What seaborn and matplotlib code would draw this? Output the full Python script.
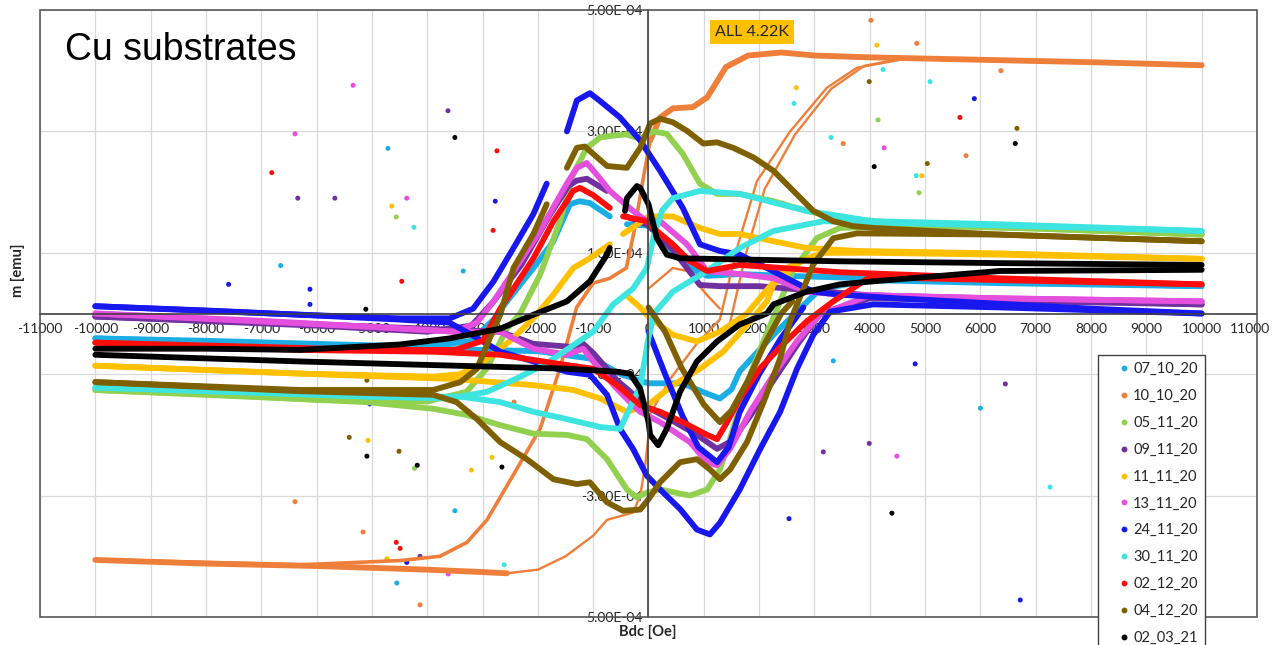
import matplotlib
matplotlib.use("Agg")
import matplotlib.pyplot as plt
from matplotlib.lines import Line2D
from matplotlib.patches import Rectangle
from matplotlib.transforms import ScaledTranslation
import pandas as pd
import seaborn as sns

samples = ["07_10_20", "10_10_20", "05_11_20", "09_11_20", "11_11_20", "13_11_20",
           "24_11_20", "30_11_20", "02_12_20", "04_12_20", "02_03_21"]
colors = ["#1BAEE5", "#EE7F3B", "#92D050", "#7030A0", "#FFC000", "#E54FDD",
          "#1717EE", "#3EE4E0", "#FF0D0D", "#7F6000", "#000000"]

# traced branches: (Bdc [Oe], m [1e-4 emu])
# 07_10_20
lb_up1 = [(-10000, -0.41), (-8000, -0.45), (-6000, -0.5), (-4000, -0.55), (-3200, -0.45),
          (-2800, -0.1), (-2560, 0.2), (-2080, 0.75), (-1720, 1.19), (-1420, 1.8),
          (-1250, 1.85), (-1060, 1.82), (-700, 1.6)]
lb_up2 = [(-390, 1.47), (-30, 1.45), (200, 1.3), (440, 1.0), (750, 0.75), (1060, 0.62),
          (1650, 0.65), (2500, 0.62), (4000, 0.58), (6350, 0.53), (10000, 0.45)]
lb_low = [(10000, 0.45), (6350, 0.5), (4000, 0.55), (3100, 0.4), (2740, 0.08), (2260, -0.35),
          (1650, -0.95), (1500, -1.25), (1290, -1.4), (1000, -1.3), (620, -1.15), (0, -1.15),
          (-500, -1.0), (-1000, -0.75), (-2000, -0.62), (-4000, -0.58), (-10000, -0.41)]
# 10_10_20
or_top = [(10000, 4.09), (8000, 4.14), (6000, 4.18), (4000, 4.22), (3000, 4.25), (2400, 4.3),
          (1800, 4.25), (1400, 4.06), (1060, 3.56), (800, 3.4), (440, 3.38), (210, 3.23),
          (30, 2.85)]
or_low = [(-10000, -4.06), (-8000, -4.12), (-6000, -4.16), (-4000, -4.22), (-3000, -4.26),
          (-2560, -4.28)]
or_down = [(30, 2.85), (-100, 2.2), (-250, 1.4), (-400, 0.75), (-700, 0.58), (-1000, 0.5),
           (-1300, 0.1), (-1600, -0.9), (-1960, -1.9), (-2450, -2.67), (-2920, -3.4),
           (-3280, -3.77), (-3770, -4.0), (-4490, -4.07), (-6300, -4.14), (-8000, -4.1),
           (-10000, -4.06)]
or_up_thin = [(-2560, -4.28), (-2000, -4.22), (-1500, -4.0), (-1000, -3.66), (-750, -3.4),
              (-280, -3.28), (-150, -3.0), (-60, -2.5), (0, -2.0), (20, -1.67), (390, -1.08),
              (870, -0.5), (1290, -0.1), (1600, 1.08), (1960, 2.18), (2560, 3.0), (3225, 3.72),
              (3770, 4.05), (4675, 4.2), (6000, 4.2)]
or_up_thin2 = [(1450, -0.25), (1750, 0.95), (2100, 2.05), (2650, 2.95), (3300, 3.7),
               (3900, 4.08), (4700, 4.22)]
or_wiggle = [(0, 0.41), (440, 0.75), (700, 0.7), (1060, 0.3), (1290, 0.08)]
# 05_11_20
gr_up = [(-10000, -1.26), (-8000, -1.33), (-6000, -1.42), (-4000, -1.45), (-3290, -1.29),
         (-2920, -0.9), (-2560, -0.25), (-2320, 0.0), (-1960, 0.64), (-1600, 1.52),
         (-1360, 2.3), (-1115, 2.73), (-875, 2.9), (-640, 2.93), (-400, 2.95), (-150, 2.88),
         (80, 3.0), (330, 2.96), (620, 2.63), (930, 2.14), (1240, 1.97), (1650, 1.97),
         (2260, 1.85), (2860, 1.69), (3460, 1.57), (5000, 1.45), (7000, 1.4), (10000, 1.3)]
gr_low = [(10000, 1.3), (7000, 1.4), (5000, 1.45), (3460, 1.41), (3040, 1.24), (2610, 0.7),
          (2380, 0.2), (2080, -0.46), (1835, -1.01), (1530, -1.9), (1290, -2.57),
          (1060, -2.9), (750, -3.0), (210, -2.9), (-30, -2.95), (-210, -3.03), (-390, -2.9),
          (-750, -2.4), (-1115, -2.07), (-1475, -2.0), (-2080, -1.98), (-2680, -1.84),
          (-3290, -1.67), (-3890, -1.57), (-5100, -1.46), (-7000, -1.38), (-10000, -1.26)]
# 09_11_20
pu_up1 = [(-10000, -0.05), (-6000, -0.2), (-4000, -0.3), (-3200, -0.2), (-2800, 0.2),
          (-2300, 0.8), (-1800, 1.6), (-1450, 2.1), (-1295, 2.19), (-1115, 2.22), (-750, 2.02)]
pu_up2 = [(-400, 1.6), (0, 1.45), (440, 1.05), (930, 0.47), (1290, 0.45), (2000, 0.45),
          (4000, 0.3), (10000, 0.15)]
pu_low = [(10000, 0.15), (4000, 0.25), (3100, 0.0), (2700, -0.5), (2260, -1.1), (1830, -1.7),
          (1500, -2.1), (1240, -2.23), (875, -2.0), (400, -1.75), (0, -1.55), (-570, -1.1),
          (-1000, -0.65), (-1180, -0.5), (-1400, -0.55), (-2080, -0.5), (-2680, -0.3),
          (-4000, -0.25), (-10000, -0.05)]
# 11_11_20
go_up1 = [(-10000, -0.86), (-6300, -0.99), (-3890, -1.04), (-3400, -1.0), (-3000, -0.8),
          (-2500, -0.45), (-2080, -0.08), (-1720, 0.31), (-1360, 0.75), (-1060, 0.91),
          (-700, 1.14)]
go_up2 = [(-460, 1.31), (-200, 1.47), (0, 1.6), (440, 1.6), (930, 1.41), (1290, 1.31),
          (1650, 1.31), (2260, 1.19), (2860, 1.08), (3770, 1.03), (6350, 0.99), (10000, 0.9)]
go_low = [(10000, 0.9), (6350, 0.97), (4000, 1.0), (3160, 1.0), (2740, 0.86), (2260, 0.48),
          (2140, 0.2), (1835, -0.13), (1350, -0.63), (930, -0.91), (440, -1.18), (0, -1.5),
          (-390, -1.62), (-875, -1.4), (-1360, -1.26), (-2080, -1.18), (-3500, -1.08),
          (-6000, -1.0), (-10000, -0.86)]
go_inner = [(-400, 0.3), (-150, 0.1), (0, -0.05), (440, -0.35), (875, -0.46), (1290, -0.3),
            (1780, 0.0), (2100, 0.35), (2500, 0.75), (3000, 0.95)]
# 13_11_20
mg_up = [(-10000, 0.0), (-7000, -0.12), (-5000, -0.22), (-3500, -0.3), (-3100, -0.15),
         (-2800, 0.2), (-2400, 0.75), (-2000, 1.3), (-1720, 1.75), (-1475, 2.14),
         (-1295, 2.4), (-1115, 2.48), (-900, 2.25), (-700, 2.02), (-280, 1.69), (-30, 1.52),
         (210, 1.52), (695, 1.14), (1060, 0.7), (1650, 0.65), (2260, 0.58), (2860, 0.36),
         (3460, 0.31), (6350, 0.25), (10000, 0.2)]
mg_low = [(10000, 0.2), (6350, 0.25), (4000, 0.3), (3100, -0.02), (2680, -0.46),
          (2260, -1.01), (1835, -1.62), (1475, -2.23), (1240, -2.5), (1060, -2.45),
          (750, -2.12), (210, -1.79), (-150, -1.62), (-280, -1.51), (-570, -1.24),
          (-1000, -0.79), (-1180, -0.58), (-1475, -0.68), (-2080, -0.58), (-2680, -0.3),
          (-3500, -0.3), (-5000, -0.22), (-10000, 0.0)]
# 24_11_20
bl_up1 = [(-10000, 0.12), (-8000, 0.05), (-6300, -0.02), (-4500, -0.08), (-3590, -0.08),
          (-3170, 0.08), (-2800, 0.53), (-2440, 1.08), (-2080, 1.64), (-1840, 2.14)]
bl_up2 = [(-1475, 3.0), (-1295, 3.51), (-1060, 3.63), (-875, 3.5), (-515, 3.23),
          (-150, 2.85), (210, 2.35), (620, 1.74), (930, 1.14), (1290, 1.03), (1650, 0.97),
          (2140, 0.75), (2610, 0.53), (2980, 0.36), (3460, 0.31), (4500, 0.25), (6350, 0.16),
          (8000, 0.08), (10000, 0.0)]
bl_low = [(10000, 0.0), (6350, 0.1), (4060, 0.15), (3280, 0.03), (2980, -0.35), (2685, -0.91),
          (2380, -1.62), (2020, -2.23), (1650, -2.9), (1290, -3.45), (1110, -3.64),
          (875, -3.56), (570, -3.22), (210, -2.9), (-30, -2.67), (-280, -2.23), (-515, -1.9),
          (-750, -1.34), (-1060, -1.01), (-1475, -0.96), (-2080, -0.79), (-2680, -0.63),
          (-3200, -0.35), (-3600, -0.15), (-4500, -0.1), (-6300, -0.02), (-10000, 0.12)]
bl_inner = [(0, -0.3), (300, -1.0), (620, -1.7), (900, -2.2), (1240, -2.45), (1450, -2.2),
            (1650, -1.62), (2000, -1.0), (2400, -0.4), (2800, 0.1)]
# 30_11_20
tq_up = [(-10000, -1.22), (-7000, -1.3), (-5000, -1.37), (-3590, -1.4), (-2920, -1.29),
         (-2380, -1.07), (-1840, -0.82), (-1000, -0.3), (-640, 0.15), (-280, 0.41),
         (-30, 0.75), (100, 1.3), (250, 1.7), (440, 1.9), (930, 2.02), (1650, 1.97),
         (2860, 1.69), (4060, 1.52), (6350, 1.47), (10000, 1.36)]
tq_low = [(10000, 1.36), (6350, 1.45), (3160, 1.52), (2260, 1.36), (1650, 1.08), (1060, 0.7),
          (440, 0.36), (100, 0.0), (0, -0.4), (-150, -1.2), (-515, -1.9), (-875, -1.87),
          (-1475, -1.74), (-2080, -1.62), (-2680, -1.46), (-3400, -1.37), (-5000, -1.37),
          (-10000, -1.22)]
# 02_12_20
rd_up1 = [(-10000, -0.48), (-7000, -0.55), (-5000, -0.6), (-3500, -0.6), (-3000, -0.45),
          (-2680, 0.08), (-2440, 0.41), (-2080, 0.91), (-1720, 1.52), (-1475, 1.85),
          (-1365, 2.02), (-1240, 2.07), (-1000, 1.95), (-700, 1.74)]
rd_up2 = [(-460, 1.6), (-30, 1.52), (150, 1.36), (440, 1.14), (750, 0.86), (1060, 0.7),
          (1650, 0.8), (3460, 0.68), (6350, 0.58), (10000, 0.48)]
rd_low = [(10000, 0.48), (6350, 0.55), (4000, 0.6), (3340, 0.2), (2860, -0.13), (2440, -0.5),
          (2020, -0.9), (1650, -1.4), (1420, -1.79), (1240, -2.07), (1060, -2.0),
          (620, -1.79), (210, -1.62), (-150, -1.51), (-570, -1.18), (-1000, -0.91),
          (-1475, -0.85), (-2680, -0.68), (-3890, -0.63), (-6300, -0.6), (-10000, -0.48)]
# 04_12_20
br_up1 = [(-10000, -1.13), (-6300, -1.26), (-3890, -1.26), (-3400, -1.13), (-3100, -0.91),
          (-2870, -0.41), (-2680, -0.02), (-2440, 0.75), (-2080, 1.31), (-1840, 1.8)]
br_up2 = [(-1475, 2.4), (-1295, 2.73), (-1150, 2.75), (-1000, 2.63), (-750, 2.43),
          (-390, 2.4), (-150, 2.73), (30, 3.13), (210, 3.21), (440, 3.15), (695, 3.01),
          (990, 2.8), (1240, 2.82), (1530, 2.73), (1900, 2.57), (2260, 2.35), (2620, 2.02),
          (2980, 1.69), (3340, 1.52), (3700, 1.44), (4060, 1.41), (6350, 1.3), (10000, 1.19)]
br_low = [(10000, 1.19), (6350, 1.3), (3770, 1.32), (3340, 1.24), (2980, 0.81), (2560, -0.13),
          (2380, -0.74), (2080, -1.46), (1780, -2.12), (1475, -2.57), (1290, -2.73),
          (1110, -2.57), (875, -2.4), (570, -2.45), (210, -2.78), (0, -3.06), (-150, -3.23),
          (-460, -3.25), (-750, -3.11), (-1060, -2.78), (-1295, -2.81), (-1720, -2.73),
          (-2200, -2.4), (-2680, -2.12), (-3100, -1.74), (-3470, -1.46), (-3890, -1.34),
          (-6300, -1.28), (-10000, -1.13)]
br_inner = [(0, 0.1), (300, -0.3), (600, -0.9), (1000, -1.5), (1290, -1.79), (1500, -1.6),
            (1800, -1.1), (2100, -0.5), (2400, 0.0), (2600, 0.2)]
# 02_03_21
bk_up1 = [(-10000, -0.58), (-8000, -0.58), (-6300, -0.6), (-4490, -0.51), (-3590, -0.41),
          (-2680, -0.25), (-2080, -0.02), (-1475, 0.2), (-1060, 0.53), (-750, 0.97),
          (-700, 1.08)]
bk_up2 = [(-425, 1.69), (-390, 1.9), (-210, 2.1), (-150, 2.07), (0, 1.8), (150, 1.24),
          (330, 0.97), (570, 0.91), (1650, 0.89), (3460, 0.86), (6350, 0.83), (10000, 0.8)]
bk_low = [(10000, 0.72), (6350, 0.7), (4060, 0.53), (3460, 0.48), (2860, 0.36), (2260, 0.15),
          (2140, 0.0), (1650, -0.18), (1240, -0.46), (875, -0.79), (570, -1.29), (330, -1.9),
          (175, -2.17), (30, -2.0), (0, -1.79), (-150, -1.24), (-335, -0.99), (-570, -0.96),
          (-1475, -0.91), (-2680, -0.88), (-3890, -0.85), (-6300, -0.79), (-10000, -0.68)]

branches = {
    "07_10_20": [lb_up1, lb_up2, lb_low],
    "10_10_20": [or_top, or_low],
    "05_11_20": [gr_up, gr_low],
    "09_11_20": [pu_up1, pu_up2, pu_low],
    "11_11_20": [go_up1, go_up2, go_low, go_inner],
    "13_11_20": [mg_up, mg_low],
    "24_11_20": [bl_up1, bl_up2, bl_low, bl_inner],
    "30_11_20": [tq_up, tq_low],
    "02_12_20": [rd_up1, rd_up2, rd_low],
    "04_12_20": [br_up1, br_up2, br_low, br_inner],
    "02_03_21": [bk_up1, bk_up2, bk_low],
}
mid_branches = {"10_10_20": [or_down]}
thin_branches = {"10_10_20": [or_up_thin, or_up_thin2, or_wiggle]}

# stray single points (sample, Bdc, m [1e-4 emu])
out_s = ["13_11_20", "09_11_20", "02_03_21", "13_11_20", "07_10_20", "02_12_20", "02_12_20",
         "09_11_20", "09_11_20", "13_11_20", "11_11_20", "05_11_20", "30_11_20", "24_11_20",
         "02_12_20", "07_10_20", "02_12_20", "24_11_20", "24_11_20", "24_11_20", "02_03_21",
         "07_10_20", "02_03_21", "04_12_20", "24_11_20", "04_12_20", "11_11_20", "02_03_21",
         "04_12_20", "05_11_20", "02_03_21", "11_11_20", "11_11_20", "02_03_21", "07_10_20",
         "10_10_20", "10_10_20", "02_12_20", "02_12_20", "11_11_20", "09_11_20", "24_11_20",
         "07_10_20", "13_11_20", "30_11_20", "10_10_20", "10_10_20",
         "11_11_20", "10_10_20", "10_10_20", "30_11_20", "30_11_20", "04_12_20", "24_11_20",
         "02_12_20", "05_11_20", "30_11_20", "11_11_20", "30_11_20", "10_10_20", "13_11_20",
         "10_10_20", "02_03_21", "04_12_20", "30_11_20", "11_11_20", "05_11_20", "04_12_20",
         "02_03_21", "10_10_20", "07_10_20", "24_11_20", "07_10_20", "09_11_20", "09_11_20",
         "13_11_20", "02_03_21", "24_11_20", "24_11_20", "09_11_20", "30_11_20"]
out_x = [-5340, -3625, -3500, -6390, -4710, -2740, -6810, -6340, -5670, -4370, -4640, -4560,
         -4240, -2770, -2810, -3350, -4460, -7590, -6120, -6120, -5110, -6650, -6370, -5090,
         -5040, -5410, -5070, -5090, -4510, -4230, -4180, -3200, -2830, -2650, -3500, -5160,
         -6390, -4560, -4490, -4730, -4130, -4370, -4550, -3620, -2610, -2430, -4130,
         4130, 4850, 4020, 4240, 5090, 3990, 5890, 5630, 4150, 2630, 2670, 3300, 3520, 4260,
         5740, 4080, 5040, 4840, 4940, 4890, 6660, 6630, 6370, 3340, 4820, 6000, 3160, 3990,
         4490, 4400, 2540, 6720, 6450, 7260]
out_y = [3.76, 3.34, 2.9, 2.96, 2.72, 2.68, 2.32, 1.9, 1.9, 1.9, 1.77, 1.59, 1.42, 1.85, 1.37,
         0.7, 0.53, 0.48, 0.4, 0.15, 0.07, 0.79, -1.3, -1.1, -1.49, -2.04, -2.09, -2.35, -2.27,
         -2.55, -2.5, -2.58, -2.37, -2.53, -3.25, -3.6, -3.1, -3.77, -3.87, -4.04, -4.0, -4.1,
         -4.44, -4.29, -4.14, -1.46, -4.8,
         4.42, 4.45, 4.83, 4.02, 3.82, 3.82, 3.54, 3.23, 3.19, 3.46, 3.72, 2.9, 2.8, 2.73, 2.6,
         2.42, 2.47, 2.27, 2.27, 1.99, 3.05, 2.8, 4.0, -0.78, -0.83, -1.56, -2.28, -2.14,
         -2.35, -3.29, -3.38, -4.72, -1.16, -2.86]

x_ticks = list(range(-11000, 11001, 1000))
y_ticks = [-5e-4, -3e-4, -1e-4, 1e-4, 3e-4, 5e-4]
y_ticklabels = ["5.00E-04", "-3.00E-04", "-1.00E-04", "1.00E-04", "3.00E-04", "5.00E-04"]

sns.set_theme(style="white")
plt.rcParams["font.family"] = ["Lato", "DejaVu Sans"]
plt.rcParams["axes.unicode_minus"] = False
plt.rcParams["lines.solid_capstyle"] = "round"
plt.rcParams["lines.solid_joinstyle"] = "round"

rows = []
for kind, group in [("main", branches), ("mid", mid_branches), ("thin", thin_branches)]:
    for s, segs in group.items():
        for k, seg in enumerate(segs):
            for x, y in seg:
                rows.append((s, kind, f"{s}-{kind}-{k}", x, y * 1e-4))
df = pd.DataFrame(rows, columns=["sample", "kind", "seg", "Bdc", "m"])
pts = pd.DataFrame({"sample": out_s, "Bdc": out_x, "m": [v * 1e-4 for v in out_y]})
pal = dict(zip(samples, colors))

fig = plt.figure(figsize=(12.73, 6.45), dpi=100)
ax = fig.add_axes([40 / 1273, 28 / 645, 1217 / 1273, 607 / 645])

sns.scatterplot(data=pts, x="Bdc", y="m", hue="sample", palette=pal, s=13,
                linewidth=0, legend=False, ax=ax)
for s in samples:
    for kind, lw in [("main", 4.2), ("mid", 2.6), ("thin", 1.7)]:
        sub = df[(df["sample"] == s) & (df["kind"] == kind)]
        if sub.empty:
            continue
        sns.lineplot(data=sub, x="Bdc", y="m", units="seg", estimator=None, sort=False,
                     color=pal[s], lw=lw, legend=False, ax=ax)

ax.set_xlim(-11000, 11000)
ax.set_ylim(-5e-4, 5e-4)
ax.set_xticks(x_ticks)
ax.set_xticklabels([str(v) for v in x_ticks])
ax.set_yticks(y_ticks)
ax.set_yticklabels(y_ticklabels)
ax.set_xlabel("")
ax.set_ylabel("")
ax.grid(True, color="#D9D9D9", lw=0.9)
ax.set_axisbelow(True)
for side in ["top", "right"]:
    ax.spines[side].set_visible(False)
for side in ["left", "bottom"]:
    ax.spines[side].set_position(("data", 0))
    ax.spines[side].set_color("#404040")
    ax.spines[side].set_linewidth(1.2)
ax.tick_params(axis="both", length=0, labelsize=10, colors="#262626")
ax.tick_params(axis="y", pad=4)
ax.tick_params(axis="x", pad=7)
# last x label sits a little inside the figure edge, as in the original
last = ax.xaxis.get_major_ticks()[-1].label1
last.set_transform(last.get_transform() + ScaledTranslation(-7 / 100, 0, fig.dpi_scale_trans))
ax.add_patch(Rectangle((0, 0), 1, 1, transform=ax.transAxes, fill=False,
                       ec="#595959", lw=1.2, clip_on=False, zorder=3))

ax.text(1870, 4.64e-4, "ALL 4.22K", ha="center", va="center", fontsize=11.5,
        color="#262626", bbox=dict(boxstyle="square,pad=0.3", fc="#FFC000", ec="none"))
fig.text(65 / 1273, 1 - 50 / 645, "Cu substrates", fontsize=27, va="center",
         family=["Liberation Sans", "DejaVu Sans"], color="black")
fig.text(18 / 1273, 1 - 270 / 645, "m [emu]", rotation=90, ha="center", va="center",
         fontsize=10.5, fontweight="bold", color="#262626")
fig.text(648 / 1273, 1 - 632 / 645, "Bdc [Oe]", ha="center", va="center",
         fontsize=10.5, fontweight="bold", color="#262626")

handles = [Line2D([], [], marker="o", ms=3.2, ls="", color=c) for c in colors]
fig.legend(handles, samples, loc="upper left", bbox_to_anchor=(1098 / 1273, 1 - 355 / 645),
           frameon=True, fancybox=False, edgecolor="#404040", framealpha=1,
           fontsize=10.5, labelspacing=0.88, handlelength=2.5, handletextpad=-0.6,
           borderpad=0.5, borderaxespad=0)

fig.savefig("out.png", dpi=100)
